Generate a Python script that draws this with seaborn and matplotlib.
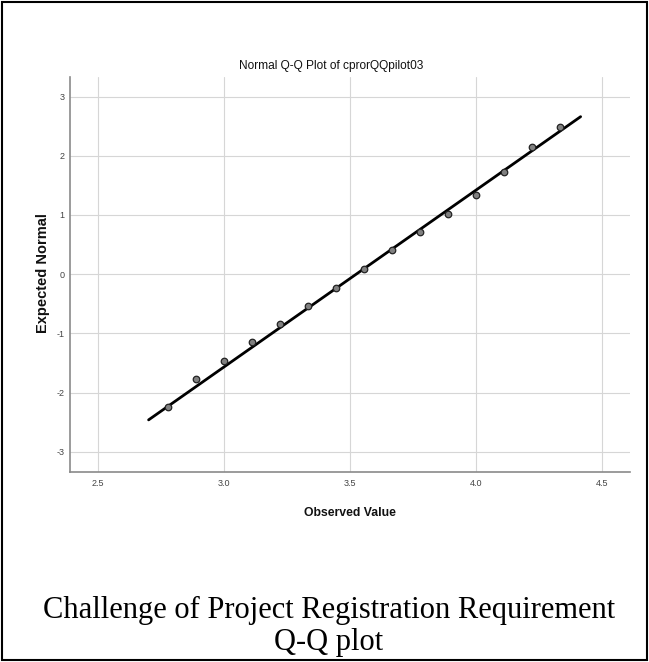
import matplotlib
matplotlib.use("Agg")
import matplotlib.pyplot as plt
import matplotlib.patches as mpatches
import seaborn as sns
import pandas as pd

# Observed values (scale means, steps of 1/9) and their expected normal scores
observed = [2.778, 2.889, 3.000, 3.111, 3.222, 3.333, 3.444, 3.556,
            3.667, 3.778, 3.889, 4.000, 4.111, 4.222, 4.333]
expected = [-2.24, -1.77, -1.46, -1.15, -0.84, -0.53, -0.23, 0.08,
            0.41, 0.72, 1.02, 1.33, 1.72, 2.14, 2.49]

# Reference line end points
line_x = [2.70, 4.415]
line_y = [-2.46, 2.66]

x_ticks = [2.5, 3.0, 3.5, 4.0, 4.5]
y_ticks = [-3, -2, -1, 0, 1, 2, 3]

title = "Normal Q-Q Plot of cprorQQpilot03"
caption_1 = "Challenge of Project Registration Requirement"
caption_2 = "Q-Q plot"

sans = ["Liberation Sans", "DejaVu Sans"]
serif = ["Liberation Serif", "DejaVu Serif"]

sns.set_style("whitegrid")

pts = pd.DataFrame({"Observed Value": observed, "Expected Normal": expected})
ref = pd.DataFrame({"x": line_x, "y": line_y})

fig = plt.figure(figsize=(6.49, 6.62), dpi=100)
ax = fig.add_axes([70 / 649, 1 - 472 / 662, 560 / 649, 395 / 662])

sns.lineplot(x="x", y="y", data=ref, color="black", linewidth=2.0, ax=ax, zorder=3)
sns.scatterplot(x="Observed Value", y="Expected Normal", data=pts, s=22,
                color="#808080", edgecolor="#222222", linewidth=0.9, ax=ax, zorder=4)

ax.set_xlim(2.388, 4.611)
ax.set_ylim(-3.34, 3.33)
ax.set_xticks(x_ticks)
ax.set_xticklabels([f"{v:.1f}" for v in x_ticks])
ax.set_yticks(y_ticks)
ax.set_yticklabels([str(v) for v in y_ticks])
ax.set_xlabel("")
ax.set_ylabel("")

ax.grid(True, color="#d6d6d6", linewidth=0.8)
for side in ["top", "right"]:
    ax.spines[side].set_visible(False)
for side in ["left", "bottom"]:
    ax.spines[side].set_color("#8a8a8a")
    ax.spines[side].set_linewidth(1.2)

ax.tick_params(axis="both", length=0, labelsize=6.5, colors="#444444")
ax.tick_params(axis="x", pad=5)
ax.tick_params(axis="y", pad=4)
for lab in ax.get_xticklabels() + ax.get_yticklabels():
    lab.set_family(sans)

fig.text(331 / 649, 1 - 66 / 662, title, ha="center", va="center",
         fontsize=8.6, family=sans, color="#111111")
fig.text(350 / 649, 1 - 513 / 662, "Observed Value", ha="center", va="center",
         fontsize=8.8, family=sans, fontweight="bold", color="#111111")
fig.text(43 / 649, 1 - 273 / 662, "Expected Normal", ha="center", va="center",
         rotation=90, fontsize=10.5, fontweight="bold", color="#111111",
         family=sans)

fig.text(329 / 649, 1 - 618 / 662, caption_1, ha="center", va="baseline",
         fontsize=22, family=serif, color="black")
fig.text(329 / 649, 1 - 650 / 662, caption_2, ha="center", va="baseline",
         fontsize=22, family=serif, color="black")

fig.patches.append(mpatches.Rectangle((0.003, 0.003), 0.994, 0.994,
                                      transform=fig.transFigure, fill=False,
                                      edgecolor="black", linewidth=1.5))

plt.savefig("out.png", dpi=100)
plt.close()
